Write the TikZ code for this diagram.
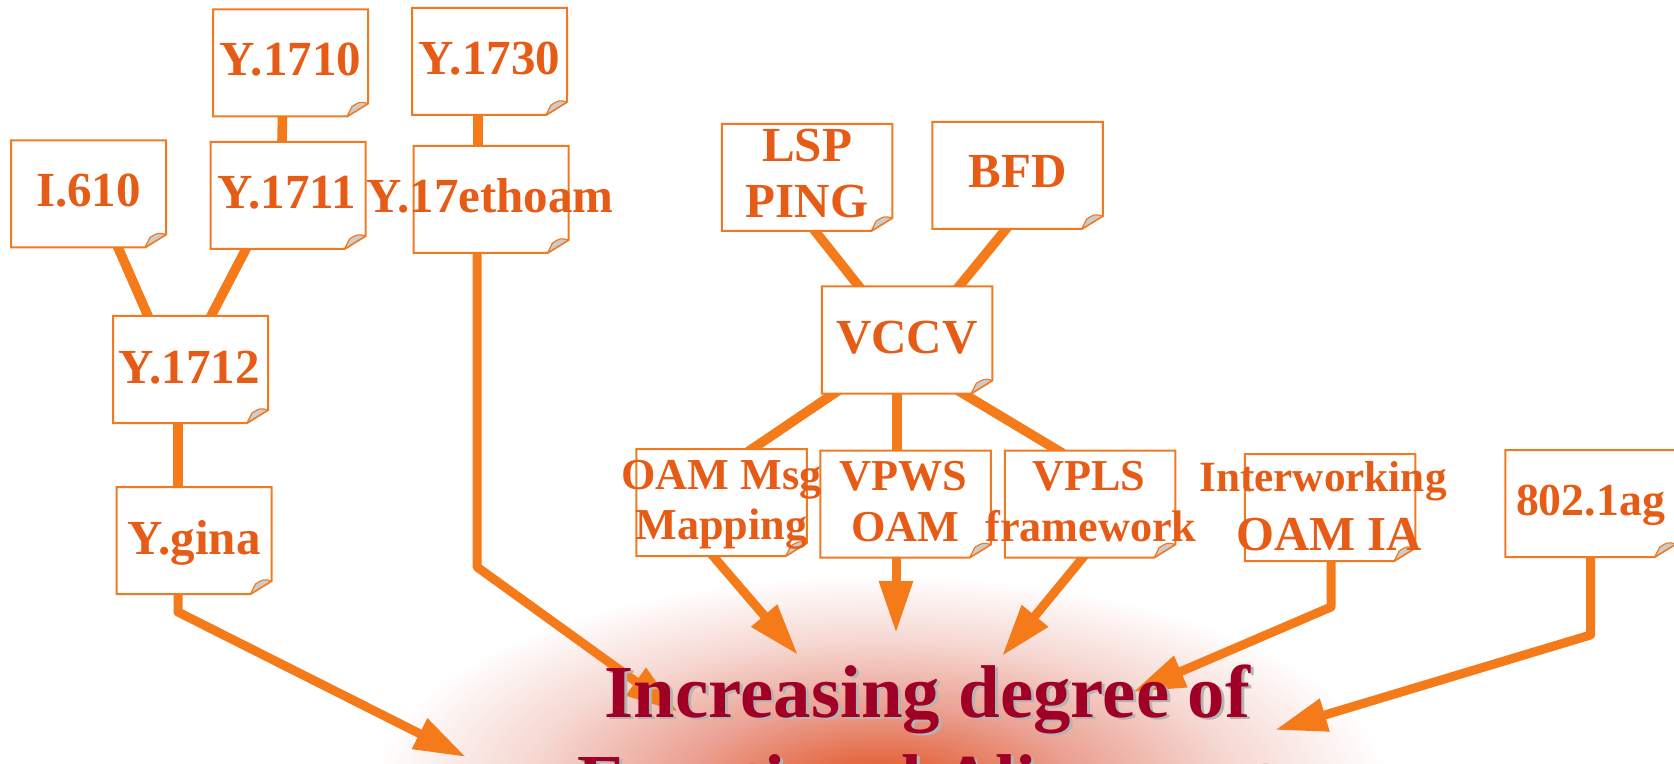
\documentclass[tikz,border=0pt]{standalone}
\usepackage{fontspec}
\setmainfont{Liberation Serif}
\usetikzlibrary{arrows.meta,calc}
\definecolor{lblc}{HTML}{E65C16}
\definecolor{boxc}{HTML}{F07A22}
\definecolor{linec}{HTML}{F47A1A}
\definecolor{titlec}{HTML}{A00026}
\definecolor{shadowc}{HTML}{B4B4B4}
\definecolor{curlc}{HTML}{CCCCCC}
\definecolor{g0}{HTML}{E0501E}
\definecolor{g1}{HTML}{E46A44}
\definecolor{g2}{HTML}{EBA294}
\definecolor{g3}{HTML}{F6D8D2}
\pgfdeclareradialshading{glow}{\pgfpoint{0bp}{0bp}}{color(0bp)=(g0); color(3.5bp)=(g1); color(10bp)=(g2); color(17.5bp)=(g3); color(25bp)=(white); color(50bp)=(white)}
\pgfdeclarelayer{glowlayer}
\pgfdeclarelayer{linelayer}
\pgfdeclarelayer{boxlayer}
\pgfsetlayers{glowlayer,linelayer,boxlayer,main}
\tikzset{
  cardA/.style={minimum width=77.5pt, minimum height=53.5pt, inner sep=0pt, outer sep=0pt},
  cardB/.style={minimum width=85.25pt, minimum height=53.5pt, inner sep=0pt, outer sep=0pt},
  lbl/.style={anchor=base, inner sep=0pt, text=lblc, font=\bfseries\fontsize{#1}{#1}\selectfont},
  ttl/.style={anchor=base, inner sep=0pt, text=titlec, font=\bfseries\fontsize{37.4pt}{37.4pt}\selectfont},
  conn/.style={draw=linec, line width=4.8pt, line join=round, shorten <=-3pt, shorten >=-3pt},
  arr/.style={draw=linec, line width=4.5pt, line join=round, shorten <=-3pt, -{Triangle[length=26pt,width=16pt]}},
  cardline/.style={draw=boxc, line width=1pt, fill=white},
  curl/.style={draw=boxc, line width=0.6pt, fill=curlc, line join=round}
}
\begin{document}
\begin{tikzpicture}[x=0.5pt,y=-0.5pt]
\useasboundingbox (0,0) rectangle (1674,764);
% cards
\node[cardA] (y1710) at (290.5,63) {};
\node[cardA] (y1730) at (489.5,61.5) {};
\node[cardA] (i610) at (88.5,194) {};
\node[cardA] (y1711) at (288,195.5) {};
\node[cardA] (yeth) at (491,199.5) {};
\node[cardA] (y1712) at (190.5,369.5) {};
\node[cardA] (ygina) at (194,540.5) {};
\node[cardB] (lsp) at (807,177.5) {};
\node[cardB] (bfd) at (1017.5,175.5) {};
\node[cardB] (vccv) at (907,340) {};
\node[cardB] (oam) at (721.5,502.5) {};
\node[cardB] (vpws) at (905.5,504) {};
\node[cardB] (vpls) at (1090,504) {};
\node[cardB] (iw) at (1330,507.5) {};
\node[cardB] (ag) at (1590.5,503.5) {};
% labels
\node[lbl=24.5pt] (t1710) at ($(y1710)+(0,13)$) {Y.1710};
\node[lbl=24.5pt] (t1730) at ($(y1730)+(0,13.5)$) {Y.1730};
\node[lbl=24.5pt] (t610) at ($(i610)+(0,13)$) {I.610};
\node[lbl=24.5pt] (t1711) at ($(y1711)+(-1,13.5)$) {Y.1711};
\node[lbl=24.5pt] (teth) at ($(yeth)+(-1,13.5)$) {Y.17ethoam};
\node[lbl=24.5pt] (t1712) at ($(y1712)+(-1.5,13.5)$) {Y.1712};
\node[lbl=24.5pt] (tgina) at ($(ygina)+(0,13.5)$) {Y.gina};
\node[lbl=24.5pt] (tlsp1) at ($(lsp)+(0,-15.5)$) {LSP};
\node[lbl=24.5pt] (tlsp2) at ($(lsp)+(0,40.5)$) {PING};
\node[lbl=24.5pt] (tbfd) at ($(bfd)+(0,12.5)$) {BFD};
\node[lbl=24.5pt] (tvccv) at ($(vccv)+(0,14)$) {VCCV};
\node[lbl=22.1pt] (toam1) at ($(oam)+(0,-13.5)$) {OAM Msg};
\node[lbl=22.1pt] (toam2) at ($(oam)+(0,36.5)$) {Mapping};
\node[lbl=22.1pt] (tvpws1) at ($(vpws)+(-2,-14)$) {VPWS};
\node[lbl=22.1pt] (tvpws2) at ($(vpws)+(0,37)$) {OAM};
\node[lbl=22.1pt] (tvpls1) at ($(vpls)+(-1,-14)$) {VPLS};
\node[lbl=22.1pt] (tvpls2) at ($(vpls)+(1,37)$) {framework};
\node[lbl=21.6pt] (tiw1) at ($(iw)+(-7,-16)$) {Interworking};
\node[lbl=24.4pt] (tiw2) at ($(iw)+(-1,42.5)$) {OAM IA};
\node[lbl=22.9pt] (tag) at ($(ag)+(0,11.5)$) {802.1ag};
% title
\node[ttl, text=shadowc] (tsh1) at (930.5,719.5) {Increasing degree of};
\node[ttl] (ttl1) at (927.5,717) {Increasing degree of};
\node[ttl, text=shadowc] (tsh2) at (930.5,808.5) {Functional Alignment};
\node[ttl] (ttl2) at (927.5,806) {Functional Alignment};
% arrow ends
\coordinate (tipA) at (466,757);
\coordinate (tipB) at (678,712);
\coordinate (tipC) at (798,655);
\coordinate (tipD) at (896,633);
\coordinate (tipE) at (1002,656);
\coordinate (tipF) at (1133,692);
\coordinate (tipG) at (1275,730);
\begin{pgfonlayer}{glowlayer}
\shade[shading=glow] (880,790) ellipse [x radius=510, y radius=215];
\end{pgfonlayer}
\begin{pgfonlayer}{linelayer}
\draw[conn] ($(y1710.south)+(-8,0)$) -- ($(y1711.north)+(-6,0)$);
\draw[conn] ($(y1730.south)+(-11.5,0)$) -- ($(yeth.north)+(-13,0)$);
\draw[conn] ($(i610.south)+(29.5,0)$) -- ($(y1712.north)+(-42.5,0)$);
\draw[conn] ($(y1711.south)+(-42,0)$) -- ($(y1712.north)+(20.5,0)$);
\draw[conn] ($(y1712.south)+(-12.5,0)$) -- ($(ygina.north)+(-16,0)$);
\draw[conn] ($(lsp.south)+(8,0)$) -- ($(vccv.north)+(-48,0)$);
\draw[conn] ($(bfd.south)+(-11.5,0)$) -- ($(vccv.north)+(52,0)$);
\draw[conn] ($(vccv.south)+(-73,0)$) -- ($(oam.north)+(30.5,0)$);
\draw[conn] ($(vccv.south)+(-10,0)$) -- ($(vpws.north)+(-8.5,0)$);
\draw[conn] ($(vccv.south)+(56,0)$) -- ($(vpls.north)+(-32,0)$);
\draw[arr] ($(ygina.south)+(-16,0)$) -- ++(0,18) -- (tipA);
\draw[arr] ($(yeth.south)+(-14,0)$) -- ++(0,314) -- (tipB);
\draw[arr] ($(oam.south)+(-8.5,0)$) -- (tipC);
\draw[arr] ($(vpws.south)+(-9.5,0)$) -- (tipD);
\draw[arr] ($(vpls.south)+(-7,0)$) -- (tipE);
\draw[arr] ($(iw.south)+(1,0)$) -- ++(0,46) -- (tipF);
\draw[arr] (ag.south) -- ++(0,78) -- (tipG);
\end{pgfonlayer}
\begin{pgfonlayer}{boxlayer}
\foreach \n in {y1710,y1730,i610,y1711,yeth,y1712,ygina,lsp,bfd,vccv,oam,vpws,vpls,iw,ag}{
  \draw[cardline] (\n.north west) -- (\n.north east) -- ($(\n.south east)+(0,-13)$) -- ($(\n.south east)+(-21,0)$) -- (\n.south west) -- cycle;
  \draw[curl] ($(\n.south east)+(0,-13)$) .. controls ($(\n.south east)+(-8,-15)$) .. ($(\n.south east)+(-16,-10)$) -- ($(\n.south east)+(-21,0)$) -- cycle;
}
\end{pgfonlayer}
\end{tikzpicture}
\end{document}
